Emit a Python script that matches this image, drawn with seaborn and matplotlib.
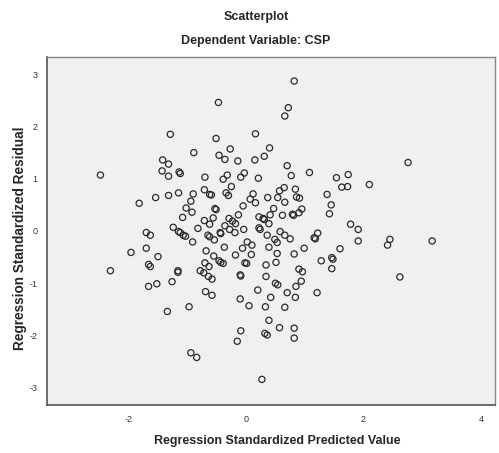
import matplotlib.pyplot as plt
import pandas as pd
import seaborn as sns

# standardized predicted values (x) and residuals (y)
pred = [
    -1.29, -0.89, -1.42, -1.32, -2.48, -1.43, -1.32, -1.14, -1.12,
    0.82, -0.47, 0.72, 0.66, 0.16, -0.51, -0.46, -0.27, -0.36, -0.14, 0.15,
    0.40, 0.31, 0.70, 1.08, 1.54, 0.77, -0.70, -0.32, -0.39, -0.03, -0.09, 0.21,
    2.76, 1.74,
    -1.15, -1.32, -1.54, -1.82, -0.90, -0.94, -1.02, -0.92, -1.08, -1.24, -1.15,
    -1.12, -1.07, -1.03, -0.91, -1.70, -1.63, -1.70, -1.96, -1.50, -1.66, -1.63,
    -2.31, -1.16, -1.16, -1.26, -1.52, -1.66,
    -1.34, -0.97, -0.94, -0.84,
    -0.69, -0.58, -0.10, 0.05, 0.20, 0.42, 0.33, 0.70, 0.84, 0.66, 1.21, 0.39,
    0.57, 0.82, 0.82, -0.09, -0.15, 0.32, 0.36, 0.27,
    2.10, 1.63, 1.73, 1.78, 1.91, 1.91, 1.60, 2.45, 2.41, 3.17, 2.62,
    -0.25, -0.71, -0.62, -0.59, -0.34, -0.30, 0.12, 0.07, 0.16, -0.05, 0.37,
    0.54, 0.57, 0.65, 0.66, 0.84, 0.86, 0.91, 1.38, 1.45, 1.42, 0.95, 0.90,
    0.79, 0.81, 0.62, 0.47, 0.41, 0.22, 0.29, 0.31, 0.39, -0.13, -0.29, -0.23,
    -0.18, -0.36, -0.28, -0.19, -0.04, -0.53, -0.51, -0.56, -0.71, -0.62, -0.82,
    -0.65, -0.62, -0.54, -0.44, -0.43, -0.37, 0.02, 0.10, -0.06, 0.22, 0.24,
    0.36, 0.49, 0.53, 0.58, 0.66, 0.75, 0.39, 0.53, 0.82, 0.99, 1.16, 1.18,
    1.22, 1.46, 1.48, 1.28, 1.46, -0.68, -0.55, -0.46, -0.43, -0.39, -0.70,
    -0.63, -0.78, -0.72, -0.64, -0.58, -0.18, -0.02, 0.01, 0.09, -0.10, -0.09,
    0.34, 0.51, 0.34, 0.50, 0.54, 0.90, 0.96, 0.94, 0.85,
]
resid = [
    1.85, 1.50, 1.36, 1.28, 1.07, 1.15, 1.05, 1.13, 1.10,
    2.87, 2.46, 2.36, 2.20, 1.86, 1.77, 1.45, 1.57, 1.37, 1.34, 1.36,
    1.59, 1.43, 1.25, 1.12, 1.02, 1.06, 1.03, 1.07, 0.99, 1.11, 1.03, 1.01,
    1.31, 1.08,
    0.73, 0.68, 0.64, 0.53, 0.71, 0.57, 0.44, 0.36, 0.26, 0.07, -0.01,
    -0.03, -0.08, -0.10, -0.21, -0.03, -0.08, -0.33, -0.41, -0.49, -0.64, -0.68,
    -0.76, -0.76, -0.79, -0.97, -1.01, -1.06,
    -1.54, -1.45, -2.33, -2.42,
    -1.16, -1.23, -1.30, -1.43, -1.13, -1.27, -1.45, -1.18, -1.27, -1.46, -1.18, -1.71,
    -1.85, -1.86, -2.05, -1.91, -2.11, -1.96, -1.99, -2.84,
    0.89, 0.84, 0.85, 0.13, 0.03, -0.19, -0.34, -0.16, -0.27, -0.19, -0.88,
    0.85, 0.79, 0.70, 0.69, 0.73, 0.68, 0.71, 0.61, 0.54, 0.48, 0.64,
    0.64, 0.77, 0.83, 0.55, 0.80, 0.65, 0.63, 0.70, 0.50, 0.33, 0.42, 0.35,
    0.32, 0.30, 0.30, 0.43, 0.31, 0.27, 0.24, 0.22, 0.14, 0.31, 0.24, 0.19,
    0.14, 0.10, 0.03, -0.03, 0.03, 0.43, 0.41, 0.25, 0.20, 0.13, 0.05,
    -0.08, -0.11, -0.17, -0.03, -0.05, -0.31, -0.21, -0.27, -0.33, 0.06, 0.03,
    -0.08, -0.16, -0.22, -0.01, -0.08, -0.15, -0.31, -0.43, -0.44, -0.33, -0.13, -0.15,
    -0.04, -0.51, -0.54, -0.57, -0.72, -0.38, -0.48, -0.57, -0.60, -0.62, -0.61,
    -0.68, -0.76, -0.80, -0.87, -0.92, -0.46, -0.61, -0.62, -0.45, -0.84, -0.86,
    -0.65, -0.60, -0.87, -1.00, -1.03, -0.73, -0.78, -0.96, -1.06,
]

x_ticks = [-2, 0, 2, 4]
y_ticks = [-3, -2, -1, 0, 1, 2, 3]

df = pd.DataFrame({'pred': pred, 'resid': resid})

sns.set_style('white')
plt.rcParams['font.family'] = ['Liberation Sans', 'DejaVu Sans']
plt.rcParams['axes.unicode_minus'] = False

fig = plt.figure(figsize=(4.99, 4.53), dpi=100)
ax = fig.add_axes([47 / 499, 48 / 453, 448 / 499, 348 / 453])
ax.set_facecolor('#f0f0f0')

sns.scatterplot(data=df, x='pred', y='resid', ax=ax, marker='o', s=20,
                facecolors='none', edgecolors='#2a2a2a', linewidth=0.9)

ax.set_xlim(-3.39, 4.24)
ax.set_ylim(-3.33, 3.33)
ax.set_xticks(x_ticks)
ax.set_yticks(y_ticks)
ax.tick_params(axis='both', labelsize=6.5, length=5, width=1, color='#444444',
               labelcolor='#333333', direction='out', pad=2)
for side in ['left', 'bottom']:
    ax.spines[side].set_color('#555555')
    ax.spines[side].set_linewidth(1.2)
for side in ['top', 'right']:
    ax.spines[side].set_color('#888888')
    ax.spines[side].set_linewidth(1.0)

ax.set_xlabel('Regression Standardized Predicted Value', fontsize=9,
              fontweight='bold', va='center')
ax.xaxis.set_label_coords((277 - 47) / 448, (405 - 441) / 348)
ax.set_ylabel('Regression Standardized Residual', fontsize=9.8,
              fontweight='bold', va='center')
ax.yaxis.set_label_coords((20 - 47) / 448, (405 - 238) / 348)

fig.text(256 / 499, 1 - 17 / 453, 'Scatterplot', ha='center', va='center',
         fontsize=9, fontweight='bold')
fig.text(256 / 499, 1 - 41 / 453, 'Dependent Variable: CSP', ha='center',
         va='center', fontsize=9, fontweight='bold')

plt.savefig('out.png', dpi=100)
